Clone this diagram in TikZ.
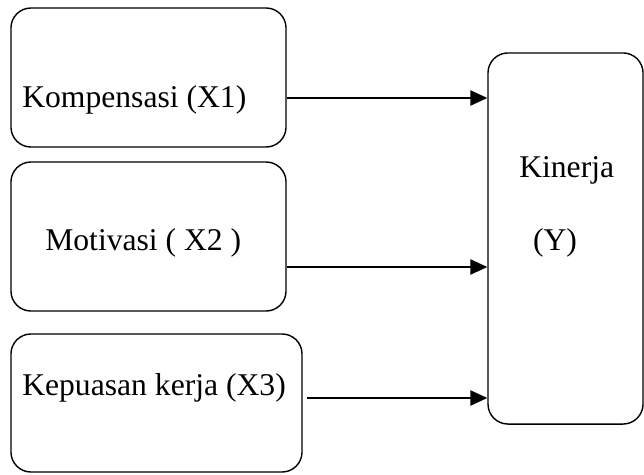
\documentclass[tikz,border=0pt]{standalone}
\usepackage{fontspec}
\setmainfont{Liberation Serif}
\usetikzlibrary{arrows.meta}
\tikzset{
	kotak/.style={draw, line width=1pt, rounded corners=0.5cm, inner sep=0pt},
	teks/.style={inner sep=0pt, font=\fontsize{22.5}{27}\selectfont},
	panah/.style={-{Triangle[length=0.42cm,width=0.38cm]}, line width=1pt}
}
\begin{document}
\begin{tikzpicture}[x=0.025cm,y=-0.025cm]
			\useasboundingbox (0,0) rectangle (644,474);
			% kotak variabel
			\node[kotak, minimum width=6.875cm, minimum height=3.475cm] (kom) at (148.5,77.5) {};
			\node[kotak, minimum width=6.875cm, minimum height=3.725cm] (mot) at (148.5,236.5) {};
			\node[kotak, minimum width=7.275cm, minimum height=3.45cm] (kep) at (156.5,403) {};
			\node[kotak, minimum width=3.875cm, minimum height=9.275cm] (kin) at (565.5,238.5) {};
			% teks
			\node[teks, anchor=base west] (tkom) at (22,107.5) {Kompensasi (X1)};
			\node[teks, anchor=base west] (tmot) at (45,250) {Motivasi ( X2 )};
			\node[teks, anchor=base west] (tkep) at (22,395) {Kepuasan kerja (X3)};
			\node[teks, anchor=base west] (tkin) at (519,177) {Kinerja};
			\node[teks, anchor=base] (ty) at (555,250) {(Y)};
			% panah
			\draw[panah] (kom.east |- 0,98) -- (kin.west |- 0,98);
			\draw[panah] (mot.east |- 0,267) -- (kin.west |- 0,267);
			\draw[panah] (307,398) -- (kin.west |- 0,398);
		\end{tikzpicture}
\end{document}
